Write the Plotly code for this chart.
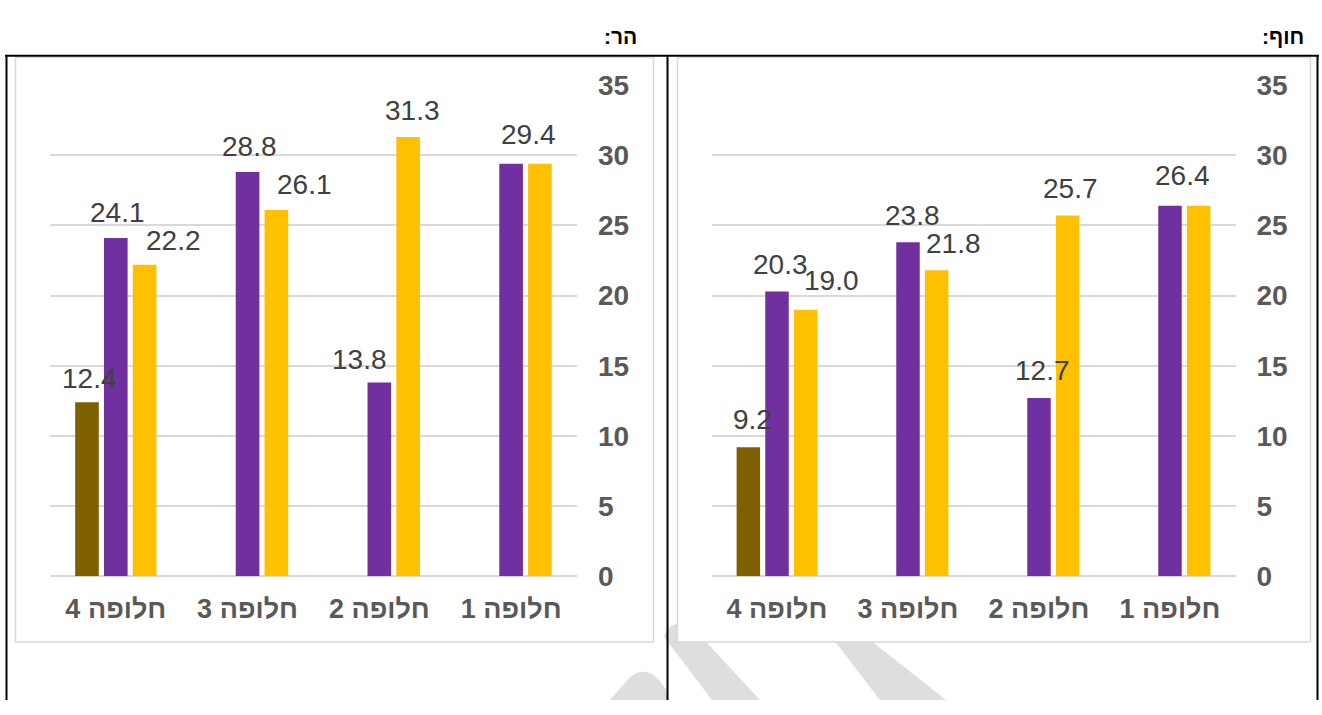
import plotly.graph_objects as go

# ---------------- data ----------------
categories = ["חלופה 1", "חלופה 2", "חלופה 3", "חלופה 4"]
series_names = ["סדרה 1", "סדרה 2", "סדרה 3"]
har_brown = [None, None, None, 12.4]
har_purple = [29.4, 13.8, 28.8, 24.1]
har_gold = [29.4, 31.3, 26.1, 22.2]
hof_brown = [None, None, None, 9.2]
hof_purple = [26.4, 12.7, 23.8, 20.3]
hof_gold = [26.4, 25.7, 21.8, 19.0]
y_ticks = [0, 5, 10, 15, 20, 25, 30, 35]
titles = ["הר:", "חוף:"]

# ---------------- style ----------------
W, H = 1322, 715
colors = ["#7F6000", "#7030A0", "#FFC000"]
FONT = "Arial, 'Liberation Sans', 'DejaVu Sans', sans-serif"
BARGAP = 0.344
BARGROUPGAP = 0.18
SLOT = (1 - BARGAP) / 3

def px_x(p):
    return p / W

def px_y(p):
    return 1 - p / H

plot_top, plot_bot = 73.3, 586.7
left_dom = [px_x(49.9), px_x(577)]
right_dom = [px_x(711.5), px_x(1235.5)]
y_dom = [px_y(plot_bot), px_y(plot_top)]

# label pixel adjustments: (chart, series, cat) -> (dx, dy above bar top)
label_adj = {
    ("har", 0, 3): (3, 24), ("har", 1, 3): (2, 25.5), ("har", 2, 3): (28.5, 24),
    ("har", 1, 2): (2, 25.5), ("har", 2, 2): (28.5, 26),
    ("har", 1, 1): (-19.5, 23.6), ("har", 2, 1): (4, 27),
    ("har", 2, 0): (-11, 29),
    ("hof", 0, 3): (4, 28), ("hof", 1, 3): (3, 27), ("hof", 2, 3): (26, 29),
    ("hof", 1, 2): (4, 27), ("hof", 2, 2): (17, 27),
    ("hof", 1, 1): (3, 28), ("hof", 2, 1): (3, 27.5),
    ("hof", 2, 0): (-16, 30),
}
hidden_labels = {("har", 1, 0), ("hof", 1, 0)}

display_order = categories[::-1]

fig = go.Figure()
charts = [
    ("har", "x", "y", [har_brown, har_purple, har_gold]),
    ("hof", "x2", "y2", [hof_brown, hof_purple, hof_gold]),
]
annotations = []
for key, xa, ya, series in charts:
    for si, vals in enumerate(series):
        fig.add_trace(go.Bar(
            x=categories, y=vals, name=series_names[si],
            marker=dict(color=colors[si], line=dict(width=0)),
            xaxis=xa, yaxis=ya, showlegend=False, hoverinfo="skip",
        ))
        for ci, v in enumerate(vals):
            if v is None or (key, si, ci) in hidden_labels:
                continue
            dx, dy = label_adj.get((key, si, ci), (0, 26))
            pos = display_order.index(categories[ci]) + (si - 1) * SLOT
            annotations.append(dict(
                x=pos, y=v, xref=xa, yref=ya, text=f"{v:.1f}",
                showarrow=False, xanchor="center", yanchor="middle",
                xshift=dx, yshift=dy,
                font=dict(family=FONT, size=28, color="#404040"),
            ))

# titles
annotations.append(dict(x=px_x(639), y=px_y(22), xref="paper", yref="paper",
                        text=titles[0] + "\u200F", showarrow=False, xanchor="right",
                        yanchor="middle", font=dict(family=FONT, size=21, color="#000000", weight="bold")))
annotations.append(dict(x=px_x(1306), y=px_y(22), xref="paper", yref="paper",
                        text=titles[1] + "\u200F", showarrow=False, xanchor="right",
                        yanchor="middle", font=dict(family=FONT, size=21, color="#000000", weight="bold")))

shapes = []
wm = "#DEDEDE"
# faint diagonal watermark strokes
for path in [
    "M 610 716 L 630 692 Q 645 680 658 694 L 667 706 L 667 716 Z",
    "M 664 650 Q 670 632 690 637 L 760 716 L 712 716 Z",
    "M 835 655 L 872 655 L 946 716 L 880 716 Z",
]:
    pts = path.split()
    out = []
    i = 0
    while i < len(pts):
        t = pts[i]
        if t in ("M", "L"):
            out.append(f"{t} {px_x(float(pts[i+1])):.5f} {px_y(float(pts[i+2])):.5f}")
            i += 3
        elif t == "Q":
            out.append(f"Q {px_x(float(pts[i+1])):.5f} {px_y(float(pts[i+2])):.5f} "
                       f"{px_x(float(pts[i+3])):.5f} {px_y(float(pts[i+4])):.5f}")
            i += 5
        else:
            out.append(t)
            i += 1
    shapes.append(dict(type="path", xref="paper", yref="paper", path=" ".join(out),
                       fillcolor=wm, line=dict(width=0), layer="below"))

# chart boxes
for x0, x1 in [(15.5, 653.5), (677.5, 1310.5)]:
    shapes.append(dict(type="rect", xref="paper", yref="paper",
                       x0=px_x(x0), x1=px_x(x1), y0=px_y(655.5), y1=px_y(44.5),
                       fillcolor="white", line=dict(color="#D9D9D9", width=1.5), layer="below"))
# table borders
for (x0, y0, x1, y1) in [(5, 42.5, 1319, 42.5), (6.5, 42, 6.5, 716), (667.5, 42, 667.5, 716), (1317.5, 42, 1317.5, 716)]:
    shapes.append(dict(type="line", xref="paper", yref="paper",
                       x0=px_x(x0), x1=px_x(x1), y0=px_y(y0), y1=px_y(y1),
                       line=dict(color="#000000", width=2), layer="above"))

xaxis_style = dict(type="category", categoryorder="array", categoryarray=display_order,
                   showgrid=False, showline=False, zeroline=False, ticks="",
                   tickfont=dict(family=FONT, size=27, color="#595959", weight="bold"),
                   ticklabelstandoff=14, fixedrange=True)
yaxis_style = dict(range=[0, 35], tickvals=y_ticks, side="right", domain=y_dom,
                   showgrid=True, gridcolor="#D9D9D9", gridwidth=1.5,
                   zeroline=True, zerolinecolor="#D9D9D9", zerolinewidth=1.5,
                   showline=False, ticks="",
                   tickfont=dict(family=FONT, size=28, color="#595959", weight="bold"),
                   ticklabelstandoff=20, fixedrange=True)

fig.update_layout(
    width=W, height=H, margin=dict(l=0, r=0, t=0, b=0),
    paper_bgcolor="white", plot_bgcolor="rgba(0,0,0,0)",
    barmode="group", bargap=BARGAP, bargroupgap=BARGROUPGAP,
    xaxis=dict(domain=left_dom, anchor="y", **xaxis_style),
    yaxis=dict(anchor="x", **yaxis_style),
    xaxis2=dict(domain=right_dom, anchor="y2", **xaxis_style),
    yaxis2=dict(anchor="x2", **yaxis_style),
    annotations=annotations, shapes=shapes, showlegend=False,
)

fig.write_html("out.html", config={"displayModeBar": False})
